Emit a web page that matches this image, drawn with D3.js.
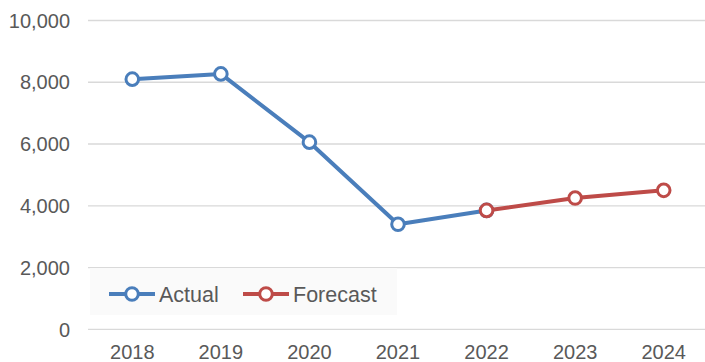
<!DOCTYPE html>
<html>
<head>
<meta charset="utf-8">
<script src="https://cdn.jsdelivr.net/npm/d3@7"></script>
<style>
  body { margin: 0; background: #fff; }
  svg { display: block; font-family: "Liberation Sans", Arial, sans-serif; }
</style>
</head>
<body>
<div id="chart"></div>
<script>
// chart data
var years = ["2018", "2019", "2020", "2021", "2022", "2023", "2024"];
var actual = [8100, 8270, 6060, 3400, 3850, null, null];
var forecast = [null, null, null, null, 3850, 4250, 4500];
var yTicks = [0, 2000, 4000, 6000, 8000, 10000];

var width = 705, height = 362;
var plotLeft = 88, plotRight = 708, plotTop = 20.5, plotBottom = 329.3;

var svg = d3.select("#chart").append("svg")
    .attr("width", width)
    .attr("height", height);

var x = d3.scaleBand().domain(years).range([plotLeft, plotRight]);
var y = d3.scaleLinear().domain([0, 10000]).range([plotBottom, plotTop]);

var fmt = d3.format(",");

// gridlines
svg.selectAll("line.grid")
   .data(yTicks)
   .enter()
   .append("line")
   .attr("x1", plotLeft)
   .attr("x2", width)
   .attr("y1", function(d) { return y(d); })
   .attr("y2", function(d) { return y(d); })
   .attr("stroke", "#d9d9d9")
   .attr("stroke-width", 1.3);

// y labels
svg.selectAll("text.ylab")
   .data(yTicks)
   .enter()
   .append("text")
   .attr("x", 70)
   .attr("y", function(d) { return y(d); })
   .attr("dy", "0.36em")
   .attr("text-anchor", "end")
   .attr("fill", "#595959")
   .style("font-size", "20px")
   .text(function(d) { return fmt(d); });

// x labels
svg.selectAll("text.xlab")
   .data(years)
   .enter()
   .append("text")
   .attr("x", function(d) { return x(d) + x.bandwidth() / 2; })
   .attr("y", 359)
   .attr("text-anchor", "middle")
   .attr("fill", "#595959")
   .style("font-size", "20px")
   .text(function(d) { return d; });

var series = [
  { name: "Actual", values: actual, color: "#4a7ebb" },
  { name: "Forecast", values: forecast, color: "#be4b48" }
];

var line = d3.line()
    .defined(function(d) { return d.v != null; })
    .x(function(d) { return x(d.year) + x.bandwidth() / 2; })
    .y(function(d) { return y(d.v); });

series.forEach(function(s) {
  var pts = years.map(function(yr, i) { return { year: yr, v: s.values[i] }; });
  svg.append("path")
     .datum(pts)
     .attr("d", line)
     .attr("fill", "none")
     .attr("stroke", s.color)
     .attr("stroke-width", 4)
     .attr("stroke-linejoin", "round");
  svg.selectAll(null)
     .data(pts.filter(function(d) { return d.v != null; }))
     .enter()
     .append("circle")
     .attr("cx", function(d) { return x(d.year) + x.bandwidth() / 2; })
     .attr("cy", function(d) { return y(d.v); })
     .attr("r", 6.3)
     .attr("fill", "#fff")
     .attr("stroke", s.color)
     .attr("stroke-width", 3);
});

// legend
var legend = svg.append("g");
legend.append("rect")
   .attr("x", 90).attr("y", 268)
   .attr("width", 307).attr("height", 47)
   .attr("fill", "#fafafa");

var legX = [109, 243];
series.forEach(function(s, i) {
  var g = legend.append("g").attr("transform", "translate(" + legX[i] + ",294)");
  g.append("line")
   .attr("x1", 0).attr("x2", 46)
   .attr("stroke", s.color).attr("stroke-width", 4);
  g.append("circle")
   .attr("cx", 23).attr("r", 6.3)
   .attr("fill", "#fff")
   .attr("stroke", s.color).attr("stroke-width", 3);
  g.append("text")
   .attr("x", 50)
   .attr("dy", "0.36em")
   .attr("fill", "#595959")
   .style("font-size", "21.5px")
   .text(s.name);
});
</script>
</body>
</html>
